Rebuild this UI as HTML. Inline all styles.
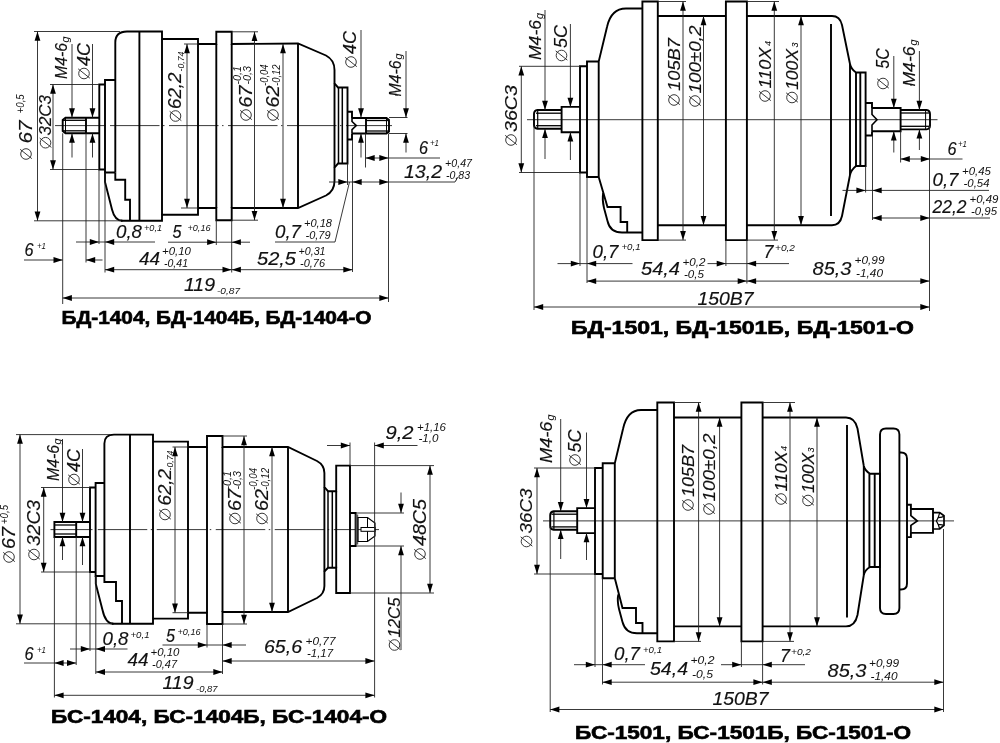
<!DOCTYPE html>
<html><head><meta charset="utf-8"><title>Drawing</title>
<style>
html,body{margin:0;padding:0;background:#fff;}
body{width:1000px;height:743px;overflow:hidden;}
svg{display:block;font-family:"Liberation Sans",sans-serif;filter:grayscale(1);}
</style></head><body>
<svg width="1000" height="743" viewBox="0 0 1000 743">
<rect x="0" y="0" width="1000" height="743" fill="#fff"/>
<g id="d1">
<line x1="55" y1="125.6" x2="106" y2="125.6" stroke="#222" stroke-width="0.9"/>
<line x1="110" y1="125.6" x2="392" y2="125.6" stroke="#222" stroke-width="0.9" stroke-dasharray="49.5 3.5 1.5 4.5"/>
<path d="M99 117.7 L65.5 117.7 L62.7 120 L62.7 131 L65.5 133.3 L99 133.3" fill="none" stroke="#000" stroke-width="1.9" stroke-linejoin="miter" stroke-linecap="butt"/>
<path d="M65.5 117.7 L65.5 133.3" fill="none" stroke="#000" stroke-width="1" stroke-linejoin="miter" stroke-linecap="butt"/>
<path d="M86 117.7 L86 133.3" fill="none" stroke="#000" stroke-width="1.9" stroke-linejoin="miter" stroke-linecap="butt"/>
<line x1="63" y1="120.3" x2="86" y2="120.3" stroke="#000" stroke-width="1.3"/>
<line x1="63" y1="130.8" x2="86" y2="130.8" stroke="#000" stroke-width="1.3"/>
<path d="M105 84.5 L99.3 84.5 L99.3 169.5 L105 169.5" fill="none" stroke="#000" stroke-width="1.9" stroke-linejoin="miter" stroke-linecap="butt"/>
<path d="M115.3 80 L105 80 L105 172.5 L115.3 172.5" fill="none" stroke="#000" stroke-width="1.9" stroke-linejoin="miter" stroke-linecap="butt"/>
<path d="M115.3 172.5 L115.3 42.5 Q115.3 31.5 127 31.5 L162 31.5 L162 39 L198 39 L198 44 L216.3 44 L216.3 31.8 L231.7 31.8 L231.7 44 L298 43.5 L326 55.5 Q334.5 60 334.5 70 L334.5 83.5 L338 87.5 L347.5 87.5 L347.5 163.5 L338 163.5 L334.5 167.5 L334.5 181 Q334.5 191 326 195.5 L298 208 L231.7 208 L231.7 220.2 L216.3 220.2 L216.3 208 L198 208 L198 214.7 L162 214.7 L162 220.8 L121 220.8" fill="none" stroke="#000" stroke-width="1.9" stroke-linejoin="miter" stroke-linecap="butt"/>
<path d="M105 172.5 L105 182 L112 209.5 Q114.8 220.8 122.5 220.8" fill="none" stroke="#000" stroke-width="1.9" stroke-linejoin="miter" stroke-linecap="butt"/>
<path d="M115.3 172.5 L115.3 179.8 L125.2 179.8 L125.2 199.8 L130 199.8 L130 220.8" fill="none" stroke="#000" stroke-width="1.9" stroke-linejoin="miter" stroke-linecap="butt"/>
<path d="M139.4 31.5 L139.4 220.8" fill="none" stroke="#000" stroke-width="1.9" stroke-linejoin="miter" stroke-linecap="butt"/>
<path d="M162 39 L162 214.7" fill="none" stroke="#000" stroke-width="1.9" stroke-linejoin="miter" stroke-linecap="butt"/>
<path d="M198 44 L198 208" fill="none" stroke="#000" stroke-width="1.9" stroke-linejoin="miter" stroke-linecap="butt"/>
<path d="M216.3 44 L216.3 208" fill="none" stroke="#000" stroke-width="1.9" stroke-linejoin="miter" stroke-linecap="butt"/>
<path d="M231.7 44 L231.7 208" fill="none" stroke="#000" stroke-width="1.9" stroke-linejoin="miter" stroke-linecap="butt"/>
<path d="M298 43.5 L298 208" fill="none" stroke="#000" stroke-width="1.9" stroke-linejoin="miter" stroke-linecap="butt"/>
<path d="M334.5 83.5 L334.5 167.5" fill="none" stroke="#000" stroke-width="1.9" stroke-linejoin="miter" stroke-linecap="butt"/>
<path d="M338.5 87.5 L338.5 163.5" fill="none" stroke="#000" stroke-width="1.5" stroke-linejoin="miter" stroke-linecap="butt"/>
<path d="M342.3 87.5 L342.3 163.5" fill="none" stroke="#000" stroke-width="1.5" stroke-linejoin="miter" stroke-linecap="butt"/>
<path d="M347.5 111.7 L352 111.7 L352 118" fill="none" stroke="#000" stroke-width="1.9" stroke-linejoin="miter" stroke-linecap="butt"/>
<path d="M347.5 139.5 L352 139.5 L352 133.5" fill="none" stroke="#000" stroke-width="1.9" stroke-linejoin="miter" stroke-linecap="butt"/>
<path d="M352 118 L386.5 118 L389 120 L389 131.5 L386.5 133.5 L352 133.5" fill="none" stroke="#000" stroke-width="1.9" stroke-linejoin="miter" stroke-linecap="butt"/>
<path d="M366 118 L366 133.5" fill="none" stroke="#000" stroke-width="1.9" stroke-linejoin="miter" stroke-linecap="butt"/>
<path d="M386.5 118 L386.5 133.5" fill="none" stroke="#000" stroke-width="1" stroke-linejoin="miter" stroke-linecap="butt"/>
<line x1="366" y1="120.5" x2="389" y2="120.5" stroke="#000" stroke-width="1.3"/>
<line x1="366" y1="131" x2="389" y2="131" stroke="#000" stroke-width="1.3"/>
<path d="M352 118 L352 121.5 L356.3 125.6 L352 129.7 L352 133.5" fill="none" stroke="#000" stroke-width="1.6" stroke-linejoin="miter" stroke-linecap="butt"/>
<line x1="34" y1="31.5" x2="120" y2="31.5" stroke="#222" stroke-width="0.9"/>
<line x1="34" y1="220.8" x2="121" y2="220.8" stroke="#222" stroke-width="0.9"/>
<line x1="37.5" y1="31.5" x2="37.5" y2="220.8" stroke="#222" stroke-width="0.9"/>
<polygon points="37.5,31.5 34.6,40.7 40.4,40.7" fill="#000"/>
<polygon points="37.5,220.8 34.6,211.6 40.4,211.6" fill="#000"/>
<circle cx="26" cy="154" r="5.3" fill="none" stroke="#222" stroke-width="0.9"/>
<line x1="20.17" y1="149.34" x2="31.83" y2="158.66" stroke="#222" stroke-width="0.9"/>
<text font-size="17.5" textLength="23" lengthAdjust="spacingAndGlyphs" font-style="italic" transform="translate(32 143.5) rotate(-90)" fill="#111" stroke="#111" stroke-width="0.15">67</text>
<text font-size="10" textLength="19" lengthAdjust="spacingAndGlyphs" font-style="italic" transform="translate(23.5 113.3) rotate(-90)" fill="#111" stroke="#111" stroke-width="0">+0,5</text>
<line x1="50" y1="84.5" x2="99" y2="84.5" stroke="#222" stroke-width="0.9"/>
<line x1="50" y1="169.5" x2="99" y2="169.5" stroke="#222" stroke-width="0.9"/>
<line x1="53" y1="84.5" x2="53" y2="169.5" stroke="#222" stroke-width="0.9"/>
<polygon points="53,84.5 50.1,93.7 55.9,93.7" fill="#000"/>
<polygon points="53,169.5 50.1,160.3 55.9,160.3" fill="#000"/>
<circle cx="45.5" cy="142.7" r="5.3" fill="none" stroke="#222" stroke-width="0.9"/>
<line x1="39.67" y1="138.04" x2="51.33" y2="147.36" stroke="#222" stroke-width="0.9"/>
<text font-size="17" textLength="40.5" lengthAdjust="spacingAndGlyphs" font-style="italic" transform="translate(50.8 135.5) rotate(-90)" fill="#111" stroke="#111" stroke-width="0.15">32C3</text>
<line x1="72" y1="44" x2="72" y2="117.5" stroke="#222" stroke-width="0.9"/>
<polygon points="72,117.5 69.1,108.3 74.9,108.3" fill="#000"/>
<line x1="72" y1="133.5" x2="72" y2="157.5" stroke="#222" stroke-width="0.9"/>
<polygon points="72,133.5 69.1,142.7 74.9,142.7" fill="#000"/>
<text font-size="16.5" textLength="36" lengthAdjust="spacingAndGlyphs" font-style="italic" transform="translate(67 79) rotate(-90)" fill="#111" stroke="#111" stroke-width="0.15">M4-6</text>
<text font-size="11" textLength="6" lengthAdjust="spacingAndGlyphs" font-style="italic" transform="translate(69 42.5) rotate(-90)" fill="#111" stroke="#111" stroke-width="0">g</text>
<line x1="92.5" y1="44" x2="92.5" y2="117.5" stroke="#222" stroke-width="0.9"/>
<polygon points="92.5,117.5 89.6,108.3 95.4,108.3" fill="#000"/>
<line x1="92.5" y1="133.5" x2="92.5" y2="157.5" stroke="#222" stroke-width="0.9"/>
<polygon points="92.5,133.5 89.6,142.7 95.4,142.7" fill="#000"/>
<circle cx="84" cy="73.5" r="5.3" fill="none" stroke="#222" stroke-width="0.9"/>
<line x1="78.17" y1="68.84" x2="89.83" y2="78.16" stroke="#222" stroke-width="0.9"/>
<text font-size="17.5" textLength="23" lengthAdjust="spacingAndGlyphs" font-style="italic" transform="translate(89.5 66) rotate(-90)" fill="#111" stroke="#111" stroke-width="0.15">4C</text>
<line x1="184" y1="44" x2="198" y2="44" stroke="#222" stroke-width="0.9"/>
<line x1="181" y1="208" x2="198" y2="208" stroke="#222" stroke-width="0.9"/>
<line x1="187" y1="44" x2="187" y2="208" stroke="#222" stroke-width="0.9"/>
<polygon points="187,44 184.1,53.2 189.9,53.2" fill="#000"/>
<polygon points="187,208 184.1,198.8 189.9,198.8" fill="#000"/>
<circle cx="175.5" cy="116" r="5.3" fill="none" stroke="#222" stroke-width="0.9"/>
<line x1="169.67" y1="111.34" x2="181.33" y2="120.66" stroke="#222" stroke-width="0.9"/>
<text font-size="17.5" textLength="36.5" lengthAdjust="spacingAndGlyphs" font-style="italic" transform="translate(181 109) rotate(-90)" fill="#111" stroke="#111" stroke-width="0.15">62,2</text>
<text font-size="9.5" textLength="20" lengthAdjust="spacingAndGlyphs" font-style="italic" transform="translate(183.5 71.5) rotate(-90)" fill="#111" stroke="#111" stroke-width="0">-0,74</text>
<line x1="231.7" y1="31.8" x2="258" y2="31.8" stroke="#222" stroke-width="0.9"/>
<line x1="231.7" y1="220.2" x2="258" y2="220.2" stroke="#222" stroke-width="0.9"/>
<line x1="254.5" y1="31.8" x2="254.5" y2="220.2" stroke="#222" stroke-width="0.9"/>
<polygon points="254.5,31.8 251.6,41 257.4,41" fill="#000"/>
<polygon points="254.5,220.2 251.6,211 257.4,211" fill="#000"/>
<circle cx="246" cy="115" r="5.3" fill="none" stroke="#222" stroke-width="0.9"/>
<line x1="240.17" y1="110.34" x2="251.83" y2="119.66" stroke="#222" stroke-width="0.9"/>
<text font-size="17.5" textLength="22" lengthAdjust="spacingAndGlyphs" font-style="italic" transform="translate(251.5 107.5) rotate(-90)" fill="#111" stroke="#111" stroke-width="0.15">67</text>
<text font-size="10" textLength="18.5" lengthAdjust="spacingAndGlyphs" font-style="italic" transform="translate(240.5 84.5) rotate(-90)" fill="#111" stroke="#111" stroke-width="0">-0,1</text>
<text font-size="10" textLength="18.5" lengthAdjust="spacingAndGlyphs" font-style="italic" transform="translate(251 84.5) rotate(-90)" fill="#111" stroke="#111" stroke-width="0">-0,3</text>
<line x1="283" y1="44" x2="283" y2="208" stroke="#222" stroke-width="0.9"/>
<polygon points="283,44 280.1,53.2 285.9,53.2" fill="#000"/>
<polygon points="283,208 280.1,198.8 285.9,198.8" fill="#000"/>
<circle cx="273" cy="115" r="5.3" fill="none" stroke="#222" stroke-width="0.9"/>
<line x1="267.17" y1="110.34" x2="278.83" y2="119.66" stroke="#222" stroke-width="0.9"/>
<text font-size="17.5" textLength="22" lengthAdjust="spacingAndGlyphs" font-style="italic" transform="translate(278.5 107.5) rotate(-90)" fill="#111" stroke="#111" stroke-width="0.15">62</text>
<text font-size="10" textLength="21.5" lengthAdjust="spacingAndGlyphs" font-style="italic" transform="translate(267.5 86) rotate(-90)" fill="#111" stroke="#111" stroke-width="0">-0,04</text>
<text font-size="10" textLength="21.5" lengthAdjust="spacingAndGlyphs" font-style="italic" transform="translate(279.5 86) rotate(-90)" fill="#111" stroke="#111" stroke-width="0">-0,12</text>
<line x1="361" y1="30" x2="361" y2="117.5" stroke="#222" stroke-width="0.9"/>
<polygon points="361,117.5 358.1,108.3 363.9,108.3" fill="#000"/>
<line x1="361" y1="133.5" x2="361" y2="157.5" stroke="#222" stroke-width="0.9"/>
<polygon points="361,133.5 358.1,142.7 363.9,142.7" fill="#000"/>
<line x1="365.5" y1="133.5" x2="365.5" y2="167.5" stroke="#222" stroke-width="0.9"/>
<circle cx="351" cy="62" r="5.3" fill="none" stroke="#222" stroke-width="0.9"/>
<line x1="345.17" y1="57.34" x2="356.83" y2="66.66" stroke="#222" stroke-width="0.9"/>
<text font-size="17.5" textLength="23" lengthAdjust="spacingAndGlyphs" font-style="italic" transform="translate(356 54) rotate(-90)" fill="#111" stroke="#111" stroke-width="0.15">4C</text>
<line x1="389" y1="117.5" x2="407.5" y2="117.5" stroke="#222" stroke-width="0.9"/>
<line x1="389" y1="133.5" x2="407.5" y2="133.5" stroke="#222" stroke-width="0.9"/>
<line x1="406" y1="51" x2="406" y2="117.5" stroke="#222" stroke-width="0.9"/>
<polygon points="406,117.5 403.1,108.3 408.9,108.3" fill="#000"/>
<line x1="406" y1="133.5" x2="406" y2="152.5" stroke="#222" stroke-width="0.9"/>
<polygon points="406,133.5 403.1,142.7 408.9,142.7" fill="#000"/>
<text font-size="16.5" textLength="36" lengthAdjust="spacingAndGlyphs" font-style="italic" transform="translate(401 96.5) rotate(-90)" fill="#111" stroke="#111" stroke-width="0.15">M4-6</text>
<text font-size="11" textLength="6" lengthAdjust="spacingAndGlyphs" font-style="italic" transform="translate(402 59.5) rotate(-90)" fill="#111" stroke="#111" stroke-width="0">g</text>
<line x1="365.5" y1="158" x2="440" y2="158" stroke="#222" stroke-width="0.9"/>
<polygon points="365.5,158 374.7,155.1 374.7,160.9" fill="#000"/>
<polygon points="388.5,158 379.3,155.1 379.3,160.9" fill="#000"/>
<text font-size="17.5" textLength="9" lengthAdjust="spacingAndGlyphs" font-style="italic" x="419" y="154" fill="#111" stroke="#111" stroke-width="0.15">6</text>
<text font-size="9.5" textLength="9" lengthAdjust="spacingAndGlyphs" font-style="italic" x="430" y="146" fill="#111" stroke="#111" stroke-width="0">+1</text>
<line x1="329" y1="182" x2="455" y2="182" stroke="#222" stroke-width="0.9"/>
<line x1="455" y1="182" x2="458" y2="177" stroke="#222" stroke-width="0.9"/>
<polygon points="347.5,182 338.3,179.1 338.3,184.9" fill="#000"/>
<polygon points="352.5,182 361.7,179.1 361.7,184.9" fill="#000"/>
<polygon points="388.5,182 379.3,179.1 379.3,184.9" fill="#000"/>
<line x1="347.5" y1="163.5" x2="347.5" y2="185" stroke="#222" stroke-width="0.9"/>
<line x1="352.5" y1="140" x2="352.5" y2="272" stroke="#222" stroke-width="0.9"/>
<line x1="388.5" y1="133.5" x2="388.5" y2="302" stroke="#222" stroke-width="0.9"/>
<text font-size="17.5" textLength="38" lengthAdjust="spacingAndGlyphs" font-style="italic" x="404" y="178" fill="#111" stroke="#111" stroke-width="0.15">13,2</text>
<text font-size="10.5" textLength="27" lengthAdjust="spacingAndGlyphs" font-style="italic" x="445" y="166.5" fill="#111" stroke="#111" stroke-width="0">+0,47</text>
<text font-size="10.5" textLength="24" lengthAdjust="spacingAndGlyphs" font-style="italic" x="446" y="178.5" fill="#111" stroke="#111" stroke-width="0">-0,83</text>
<line x1="349.5" y1="182" x2="335" y2="242" stroke="#222" stroke-width="0.9"/>
<line x1="275" y1="242" x2="335" y2="242" stroke="#222" stroke-width="0.9"/>
<text font-size="17.5" textLength="26" lengthAdjust="spacingAndGlyphs" font-style="italic" x="275" y="237.5" fill="#111" stroke="#111" stroke-width="0.15">0,7</text>
<text font-size="10.5" textLength="28" lengthAdjust="spacingAndGlyphs" font-style="italic" x="304" y="227" fill="#111" stroke="#111" stroke-width="0">+0,18</text>
<text font-size="10.5" textLength="25" lengthAdjust="spacingAndGlyphs" font-style="italic" x="305.5" y="239" fill="#111" stroke="#111" stroke-width="0">-0,79</text>
<line x1="231.7" y1="269.7" x2="352.5" y2="269.7" stroke="#222" stroke-width="0.9"/>
<polygon points="231.7,269.7 240.9,266.8 240.9,272.6" fill="#000"/>
<polygon points="352.5,269.7 343.3,266.8 343.3,272.6" fill="#000"/>
<text font-size="17.5" textLength="39" lengthAdjust="spacingAndGlyphs" font-style="italic" x="257" y="264.5" fill="#111" stroke="#111" stroke-width="0.15">52,5</text>
<text font-size="10.5" textLength="27" lengthAdjust="spacingAndGlyphs" font-style="italic" x="298.5" y="254.5" fill="#111" stroke="#111" stroke-width="0">+0,31</text>
<text font-size="10.5" textLength="25" lengthAdjust="spacingAndGlyphs" font-style="italic" x="300" y="266.5" fill="#111" stroke="#111" stroke-width="0">-0,76</text>
<line x1="99" y1="169.5" x2="99" y2="244" stroke="#222" stroke-width="0.9"/>
<line x1="105" y1="172.5" x2="105" y2="272.5" stroke="#222" stroke-width="0.9"/>
<line x1="76" y1="242" x2="105" y2="242" stroke="#222" stroke-width="0.9"/>
<polygon points="99,242 89.8,239.1 89.8,244.9" fill="#000"/>
<line x1="105" y1="242" x2="155" y2="242" stroke="#222" stroke-width="0.9"/>
<polygon points="105,242 114.2,239.1 114.2,244.9" fill="#000"/>
<text font-size="17.5" textLength="26" lengthAdjust="spacingAndGlyphs" font-style="italic" x="116" y="238" fill="#111" stroke="#111" stroke-width="0.15">0,8</text>
<text font-size="9.5" textLength="18" lengthAdjust="spacingAndGlyphs" font-style="italic" x="144" y="231" fill="#111" stroke="#111" stroke-width="0">+0,1</text>
<line x1="216.3" y1="220.2" x2="216.3" y2="245" stroke="#222" stroke-width="0.9"/>
<line x1="231.7" y1="220.2" x2="231.7" y2="272.5" stroke="#222" stroke-width="0.9"/>
<line x1="168" y1="242.2" x2="250" y2="242.2" stroke="#222" stroke-width="0.9"/>
<polygon points="216.3,242.2 207.1,239.3 207.1,245.1" fill="#000"/>
<polygon points="231.7,242.2 240.9,239.3 240.9,245.1" fill="#000"/>
<text font-size="17.5" textLength="9" lengthAdjust="spacingAndGlyphs" font-style="italic" x="172.5" y="238" fill="#111" stroke="#111" stroke-width="0.15">5</text>
<text font-size="9.5" textLength="23" lengthAdjust="spacingAndGlyphs" font-style="italic" x="187.5" y="231" fill="#111" stroke="#111" stroke-width="0">+0,16</text>
<line x1="62.7" y1="133.3" x2="62.7" y2="304" stroke="#222" stroke-width="0.9"/>
<line x1="86" y1="133.3" x2="86" y2="262.5" stroke="#222" stroke-width="0.9"/>
<line x1="24" y1="260" x2="62.7" y2="260" stroke="#222" stroke-width="0.9"/>
<polygon points="62.7,260 53.5,257.1 53.5,262.9" fill="#000"/>
<line x1="86" y1="260" x2="102.5" y2="260" stroke="#222" stroke-width="0.9"/>
<polygon points="86,260 95.2,257.1 95.2,262.9" fill="#000"/>
<text font-size="17.5" textLength="9" lengthAdjust="spacingAndGlyphs" font-style="italic" x="24.5" y="256" fill="#111" stroke="#111" stroke-width="0.15">6</text>
<text font-size="9.5" textLength="9" lengthAdjust="spacingAndGlyphs" font-style="italic" x="37" y="249" fill="#111" stroke="#111" stroke-width="0">+1</text>
<line x1="105" y1="269.7" x2="231.7" y2="269.7" stroke="#222" stroke-width="0.9"/>
<polygon points="105,269.7 114.2,266.8 114.2,272.6" fill="#000"/>
<polygon points="231.7,269.7 222.5,266.8 222.5,272.6" fill="#000"/>
<text font-size="17.5" textLength="21" lengthAdjust="spacingAndGlyphs" font-style="italic" x="139" y="264.5" fill="#111" stroke="#111" stroke-width="0.15">44</text>
<text font-size="10.5" textLength="29" lengthAdjust="spacingAndGlyphs" font-style="italic" x="162" y="254.5" fill="#111" stroke="#111" stroke-width="0">+0,10</text>
<text font-size="10.5" textLength="24" lengthAdjust="spacingAndGlyphs" font-style="italic" x="164" y="266.5" fill="#111" stroke="#111" stroke-width="0">-0,41</text>
<line x1="62.7" y1="298" x2="388.5" y2="298" stroke="#222" stroke-width="0.9"/>
<polygon points="62.7,298 71.9,295.1 71.9,300.9" fill="#000"/>
<polygon points="388.5,298 379.3,295.1 379.3,300.9" fill="#000"/>
<text font-size="17.5" textLength="31" lengthAdjust="spacingAndGlyphs" font-style="italic" x="184" y="291" fill="#111" stroke="#111" stroke-width="0.15">119</text>
<text font-size="9.5" textLength="23" lengthAdjust="spacingAndGlyphs" font-style="italic" x="217" y="294" fill="#111" stroke="#111" stroke-width="0">-0,87</text>
<text font-size="17.5" textLength="310" lengthAdjust="spacingAndGlyphs" font-weight="bold" x="61.5" y="323.5" fill="#000" stroke="#000" stroke-width="0.6">БД-1404, БД-1404Б, БД-1404-О</text>
</g>
<g id="d2">
<line x1="527" y1="119.7" x2="937.5" y2="119.7" stroke="#222" stroke-width="0.9"/>
<path d="M561.6 110 L537.5 110 Q534 110.5 534 114 L534 125 Q534 128.3 537.5 128.8 L561.6 128.8" fill="none" stroke="#000" stroke-width="1.9" stroke-linejoin="miter" stroke-linecap="butt"/>
<path d="M537.7 110 L537.7 128.8" fill="none" stroke="#000" stroke-width="1.2" stroke-linejoin="miter" stroke-linecap="butt"/>
<line x1="536" y1="113.2" x2="561" y2="113.2" stroke="#000" stroke-width="1.3"/>
<line x1="536" y1="125.7" x2="561" y2="125.7" stroke="#000" stroke-width="1.3"/>
<path d="M580 106.9 L561.6 106.9 L561.6 132.2 L580 132.2" fill="none" stroke="#000" stroke-width="1.9" stroke-linejoin="miter" stroke-linecap="butt"/>
<path d="M587 66.3 L580 66.3 L580 172.5 L587 172.5" fill="none" stroke="#000" stroke-width="1.9" stroke-linejoin="miter" stroke-linecap="butt"/>
<path d="M598.7 61.5 L587 61.5 L587 177 L598.7 177" fill="none" stroke="#000" stroke-width="1.9" stroke-linejoin="miter" stroke-linecap="butt"/>
<path d="M598.7 177 L598.7 61.5 L607 27 Q611 8.5 626 8.5 L642.4 8.5" fill="none" stroke="#000" stroke-width="1.9" stroke-linejoin="miter" stroke-linecap="butt"/>
<path d="M598.7 177 L607.5 207 L620.6 207 L620.6 222 L627.2 222 L627.2 232.5" fill="none" stroke="#000" stroke-width="1.9" stroke-linejoin="miter" stroke-linecap="butt"/>
<path d="M603.2 193 Q602 200 604 208 L607.5 221 Q610 232.5 622 232.5 L642.4 232.5" fill="none" stroke="#000" stroke-width="1.9" stroke-linejoin="miter" stroke-linecap="butt"/>
<path d="M642.4 1.5 L657.8 1.5 L657.8 240.1 L642.4 240.1 Z" fill="none" stroke="#000" stroke-width="1.9" stroke-linejoin="miter" stroke-linecap="butt"/>
<path d="M657.8 16 L725.9 16" fill="none" stroke="#000" stroke-width="1.9" stroke-linejoin="miter" stroke-linecap="butt"/>
<path d="M657.8 225.2 L725.9 225.2" fill="none" stroke="#000" stroke-width="1.9" stroke-linejoin="miter" stroke-linecap="butt"/>
<path d="M725.9 1.5 L746.9 1.5 L746.9 240.1 L725.9 240.1 Z" fill="none" stroke="#000" stroke-width="1.9" stroke-linejoin="miter" stroke-linecap="butt"/>
<path d="M746.9 16 L832 16 Q840 16 842 25 L850 64 Q851 69 856 72.5 L865.6 72.5 L865.6 166 L856 166 Q851 170 850 175 L842 216 Q840 225.2 832 225.2 L746.9 225.2" fill="none" stroke="#000" stroke-width="1.9" stroke-linejoin="miter" stroke-linecap="butt"/>
<path d="M831 24 L831 216" fill="none" stroke="#000" stroke-width="1.9" stroke-linejoin="miter" stroke-linecap="butt"/>
<path d="M850 64 L850 175" fill="none" stroke="#000" stroke-width="1.9" stroke-linejoin="miter" stroke-linecap="butt"/>
<path d="M856 72.5 L856 166" fill="none" stroke="#000" stroke-width="1.9" stroke-linejoin="miter" stroke-linecap="butt"/>
<path d="M860.3 72.5 L860.3 166" fill="none" stroke="#000" stroke-width="1.9" stroke-linejoin="miter" stroke-linecap="butt"/>
<path d="M865.6 103 L872 103 L872 108" fill="none" stroke="#000" stroke-width="1.9" stroke-linejoin="miter" stroke-linecap="butt"/>
<path d="M865.6 135.5 L872 135.5 L872 131.3" fill="none" stroke="#000" stroke-width="1.9" stroke-linejoin="miter" stroke-linecap="butt"/>
<path d="M872 108 L900.6 108 L900.6 131.3 L872 131.3" fill="none" stroke="#000" stroke-width="1.9" stroke-linejoin="miter" stroke-linecap="butt"/>
<path d="M872 108 L872 114.5 L877 119.7 L872 125 L872 131.3" fill="none" stroke="#000" stroke-width="1.6" stroke-linejoin="miter" stroke-linecap="butt"/>
<path d="M900.6 110 L926.5 110 Q930 110.5 930 114 L930 125.5 Q930 129 926.5 129.4 L900.6 129.4" fill="none" stroke="#000" stroke-width="1.9" stroke-linejoin="miter" stroke-linecap="butt"/>
<path d="M925.6 110 L925.6 129.4" fill="none" stroke="#000" stroke-width="1" stroke-linejoin="miter" stroke-linecap="butt"/>
<line x1="900.6" y1="113" x2="929" y2="113" stroke="#000" stroke-width="1.3"/>
<line x1="900.6" y1="126.3" x2="929" y2="126.3" stroke="#000" stroke-width="1.3"/>
<line x1="519" y1="66.3" x2="580" y2="66.3" stroke="#222" stroke-width="0.9"/>
<line x1="519" y1="172.5" x2="580" y2="172.5" stroke="#222" stroke-width="0.9"/>
<line x1="521.3" y1="66.3" x2="521.3" y2="172.5" stroke="#222" stroke-width="0.9"/>
<polygon points="521.3,66.3 518.4,75.5 524.2,75.5" fill="#000"/>
<polygon points="521.3,172.5 518.4,163.3 524.2,163.3" fill="#000"/>
<circle cx="511" cy="140" r="5.3" fill="none" stroke="#222" stroke-width="0.9"/>
<line x1="505.17" y1="135.34" x2="516.83" y2="144.66" stroke="#222" stroke-width="0.9"/>
<text font-size="17" textLength="47" lengthAdjust="spacingAndGlyphs" font-style="italic" transform="translate(516.5 132) rotate(-90)" fill="#111" stroke="#111" stroke-width="0.15">36C3</text>
<line x1="545" y1="10" x2="545" y2="110" stroke="#222" stroke-width="0.9"/>
<polygon points="545,110 542.1,100.8 547.9,100.8" fill="#000"/>
<line x1="545" y1="128.8" x2="545" y2="159" stroke="#222" stroke-width="0.9"/>
<polygon points="545,128.8 542.1,138 547.9,138" fill="#000"/>
<text font-size="16.5" textLength="40" lengthAdjust="spacingAndGlyphs" font-style="italic" transform="translate(540.5 60) rotate(-90)" fill="#111" stroke="#111" stroke-width="0.15">M4-6</text>
<text font-size="11" textLength="6" lengthAdjust="spacingAndGlyphs" font-style="italic" transform="translate(542.5 19) rotate(-90)" fill="#111" stroke="#111" stroke-width="0">g</text>
<line x1="570.4" y1="24" x2="570.4" y2="106.9" stroke="#222" stroke-width="0.9"/>
<polygon points="570.4,106.9 567.5,97.7 573.3,97.7" fill="#000"/>
<line x1="570.4" y1="132.2" x2="570.4" y2="160" stroke="#222" stroke-width="0.9"/>
<polygon points="570.4,132.2 567.5,141.4 573.3,141.4" fill="#000"/>
<circle cx="561.5" cy="55.5" r="5.3" fill="none" stroke="#222" stroke-width="0.9"/>
<line x1="555.67" y1="50.84" x2="567.33" y2="60.16" stroke="#222" stroke-width="0.9"/>
<text font-size="17.5" textLength="23" lengthAdjust="spacingAndGlyphs" font-style="italic" transform="translate(567 48) rotate(-90)" fill="#111" stroke="#111" stroke-width="0.15">5C</text>
<line x1="657.8" y1="1.5" x2="686" y2="1.5" stroke="#222" stroke-width="0.9"/>
<line x1="657.8" y1="240.1" x2="686" y2="240.1" stroke="#222" stroke-width="0.9"/>
<line x1="683" y1="1.5" x2="683" y2="240.1" stroke="#222" stroke-width="0.9"/>
<polygon points="683,1.5 680.1,10.7 685.9,10.7" fill="#000"/>
<polygon points="683,240.1 680.1,230.9 685.9,230.9" fill="#000"/>
<circle cx="674" cy="100" r="5.3" fill="none" stroke="#222" stroke-width="0.9"/>
<line x1="668.17" y1="95.34" x2="679.83" y2="104.66" stroke="#222" stroke-width="0.9"/>
<text font-size="17" textLength="53" lengthAdjust="spacingAndGlyphs" font-style="italic" transform="translate(679.5 91) rotate(-90)" fill="#111" stroke="#111" stroke-width="0.15">105B7</text>
<line x1="703.5" y1="16" x2="703.5" y2="225.2" stroke="#222" stroke-width="0.9"/>
<polygon points="703.5,16 700.6,25.2 706.4,25.2" fill="#000"/>
<polygon points="703.5,225.2 700.6,216 706.4,216" fill="#000"/>
<circle cx="695" cy="101" r="5.3" fill="none" stroke="#222" stroke-width="0.9"/>
<line x1="689.17" y1="96.34" x2="700.83" y2="105.66" stroke="#222" stroke-width="0.9"/>
<text font-size="17" textLength="68" lengthAdjust="spacingAndGlyphs" font-style="italic" transform="translate(700.5 93.5) rotate(-90)" fill="#111" stroke="#111" stroke-width="0.15">100±0,2</text>
<line x1="746.9" y1="1.5" x2="779" y2="1.5" stroke="#222" stroke-width="0.9"/>
<line x1="746.9" y1="240.1" x2="778" y2="240.1" stroke="#222" stroke-width="0.9"/>
<line x1="774.3" y1="1.5" x2="774.3" y2="240.1" stroke="#222" stroke-width="0.9"/>
<polygon points="774.3,1.5 771.4,10.7 777.2,10.7" fill="#000"/>
<polygon points="774.3,240.1 771.4,230.9 777.2,230.9" fill="#000"/>
<circle cx="765" cy="96" r="5.3" fill="none" stroke="#222" stroke-width="0.9"/>
<line x1="759.17" y1="91.34" x2="770.83" y2="100.66" stroke="#222" stroke-width="0.9"/>
<text font-size="17" textLength="41" lengthAdjust="spacingAndGlyphs" font-style="italic" transform="translate(770.5 88.5) rotate(-90)" fill="#111" stroke="#111" stroke-width="0.15">110X</text>
<text font-size="8.5" textLength="5" lengthAdjust="spacingAndGlyphs" font-style="italic" transform="translate(770.5 46) rotate(-90)" fill="#000" stroke="#000" stroke-width="0">4</text>
<line x1="801" y1="16" x2="801" y2="225.2" stroke="#222" stroke-width="0.9"/>
<polygon points="801,16 798.1,25.2 803.9,25.2" fill="#000"/>
<polygon points="801,225.2 798.1,216 803.9,216" fill="#000"/>
<circle cx="792" cy="97.5" r="5.3" fill="none" stroke="#222" stroke-width="0.9"/>
<line x1="786.17" y1="92.84" x2="797.83" y2="102.16" stroke="#222" stroke-width="0.9"/>
<text font-size="17" textLength="41" lengthAdjust="spacingAndGlyphs" font-style="italic" transform="translate(797.5 90) rotate(-90)" fill="#111" stroke="#111" stroke-width="0.15">100X</text>
<text font-size="8.5" textLength="5" lengthAdjust="spacingAndGlyphs" font-style="italic" transform="translate(797.5 47.5) rotate(-90)" fill="#000" stroke="#000" stroke-width="0">3</text>
<line x1="893.8" y1="56" x2="893.8" y2="108" stroke="#222" stroke-width="0.9"/>
<polygon points="893.8,108 890.9,98.8 896.7,98.8" fill="#000"/>
<line x1="893.8" y1="131.3" x2="893.8" y2="152.5" stroke="#222" stroke-width="0.9"/>
<polygon points="893.8,131.3 890.9,140.5 896.7,140.5" fill="#000"/>
<circle cx="883" cy="83.5" r="5.3" fill="none" stroke="#222" stroke-width="0.9"/>
<line x1="877.17" y1="78.84" x2="888.83" y2="88.16" stroke="#222" stroke-width="0.9"/>
<text font-size="17.5" textLength="20" lengthAdjust="spacingAndGlyphs" font-style="italic" transform="translate(889 68.5) rotate(-90)" fill="#111" stroke="#111" stroke-width="0.15">5C</text>
<line x1="919.4" y1="51" x2="919.4" y2="110" stroke="#222" stroke-width="0.9"/>
<polygon points="919.4,110 916.5,100.8 922.3,100.8" fill="#000"/>
<line x1="919.4" y1="129.4" x2="919.4" y2="150" stroke="#222" stroke-width="0.9"/>
<polygon points="919.4,129.4 916.5,138.6 922.3,138.6" fill="#000"/>
<text font-size="16.5" textLength="40" lengthAdjust="spacingAndGlyphs" font-style="italic" transform="translate(915 86.5) rotate(-90)" fill="#111" stroke="#111" stroke-width="0.15">M4-6</text>
<text font-size="11" textLength="6" lengthAdjust="spacingAndGlyphs" font-style="italic" transform="translate(917 45.5) rotate(-90)" fill="#111" stroke="#111" stroke-width="0">g</text>
<line x1="900.6" y1="131.3" x2="900.6" y2="162.5" stroke="#222" stroke-width="0.9"/>
<line x1="929.5" y1="126" x2="929.5" y2="311" stroke="#222" stroke-width="0.9"/>
<line x1="900.6" y1="159" x2="962.5" y2="159" stroke="#222" stroke-width="0.9"/>
<polygon points="900.6,159 909.8,156.1 909.8,161.9" fill="#000"/>
<polygon points="930,159 920.8,156.1 920.8,161.9" fill="#000"/>
<text font-size="17.5" textLength="9" lengthAdjust="spacingAndGlyphs" font-style="italic" x="947.5" y="155" fill="#111" stroke="#111" stroke-width="0.15">6</text>
<text font-size="9.5" textLength="9" lengthAdjust="spacingAndGlyphs" font-style="italic" x="958" y="147" fill="#111" stroke="#111" stroke-width="0">+1</text>
<line x1="865.6" y1="166" x2="865.6" y2="192.5" stroke="#222" stroke-width="0.9"/>
<line x1="872.5" y1="135.5" x2="872.5" y2="220" stroke="#222" stroke-width="0.9"/>
<line x1="842.5" y1="190.4" x2="872.5" y2="190.4" stroke="#222" stroke-width="0.9"/>
<polygon points="865.6,190.4 856.4,187.5 856.4,193.3" fill="#000"/>
<line x1="872.5" y1="190.4" x2="989" y2="190.4" stroke="#222" stroke-width="0.9"/>
<polygon points="872.5,190.4 881.7,187.5 881.7,193.3" fill="#000"/>
<text font-size="17.5" textLength="26" lengthAdjust="spacingAndGlyphs" font-style="italic" x="932.5" y="186" fill="#111" stroke="#111" stroke-width="0.15">0,7</text>
<text font-size="10.5" textLength="29" lengthAdjust="spacingAndGlyphs" font-style="italic" x="962" y="175" fill="#111" stroke="#111" stroke-width="0">+0,45</text>
<text font-size="10.5" textLength="26" lengthAdjust="spacingAndGlyphs" font-style="italic" x="963.5" y="187" fill="#111" stroke="#111" stroke-width="0">-0,54</text>
<line x1="872.5" y1="218" x2="990" y2="218" stroke="#222" stroke-width="0.9"/>
<polygon points="872.5,218 881.7,215.1 881.7,220.9" fill="#000"/>
<polygon points="929.5,218 920.3,215.1 920.3,220.9" fill="#000"/>
<text font-size="17.5" textLength="34" lengthAdjust="spacingAndGlyphs" font-style="italic" x="932.5" y="212.5" fill="#111" stroke="#111" stroke-width="0.15">22,2</text>
<text font-size="10.5" textLength="29" lengthAdjust="spacingAndGlyphs" font-style="italic" x="969.5" y="202.5" fill="#111" stroke="#111" stroke-width="0">+0,49</text>
<text font-size="10.5" textLength="26" lengthAdjust="spacingAndGlyphs" font-style="italic" x="971" y="215" fill="#111" stroke="#111" stroke-width="0">-0,95</text>
<line x1="580" y1="172.5" x2="580" y2="266" stroke="#222" stroke-width="0.9"/>
<line x1="587" y1="177" x2="587" y2="283" stroke="#222" stroke-width="0.9"/>
<line x1="557.5" y1="263.6" x2="632.5" y2="263.6" stroke="#222" stroke-width="0.9"/>
<polygon points="580,263.6 570.8,260.7 570.8,266.5" fill="#000"/>
<polygon points="587,263.6 596.2,260.7 596.2,266.5" fill="#000"/>
<text font-size="17.5" textLength="26" lengthAdjust="spacingAndGlyphs" font-style="italic" x="592.5" y="257.5" fill="#111" stroke="#111" stroke-width="0.15">0,7</text>
<text font-size="9.5" textLength="19" lengthAdjust="spacingAndGlyphs" font-style="italic" x="621.5" y="250" fill="#111" stroke="#111" stroke-width="0">+0,1</text>
<text font-size="17.5" textLength="39" lengthAdjust="spacingAndGlyphs" font-style="italic" x="641" y="274.5" fill="#111" stroke="#111" stroke-width="0.15">54,4</text>
<text font-size="10.5" textLength="23" lengthAdjust="spacingAndGlyphs" font-style="italic" x="682.5" y="266" fill="#111" stroke="#111" stroke-width="0">+0,2</text>
<text font-size="10.5" textLength="20" lengthAdjust="spacingAndGlyphs" font-style="italic" x="684" y="277.5" fill="#111" stroke="#111" stroke-width="0">-0,5</text>
<line x1="587" y1="281.1" x2="746.9" y2="281.1" stroke="#222" stroke-width="0.9"/>
<polygon points="587,281.1 596.2,278.2 596.2,284" fill="#000"/>
<polygon points="746.9,281.1 737.7,278.2 737.7,284" fill="#000"/>
<line x1="725.9" y1="240.1" x2="725.9" y2="266" stroke="#222" stroke-width="0.9"/>
<line x1="746.9" y1="240.1" x2="746.9" y2="283.5" stroke="#222" stroke-width="0.9"/>
<line x1="707.5" y1="263.6" x2="789" y2="263.6" stroke="#222" stroke-width="0.9"/>
<polygon points="725.9,263.6 716.7,260.7 716.7,266.5" fill="#000"/>
<polygon points="746.9,263.6 756.1,260.7 756.1,266.5" fill="#000"/>
<text font-size="17.5" textLength="10" lengthAdjust="spacingAndGlyphs" font-style="italic" x="763.5" y="258" fill="#111" stroke="#111" stroke-width="0.15">7</text>
<text font-size="9.5" textLength="20" lengthAdjust="spacingAndGlyphs" font-style="italic" x="775" y="250.5" fill="#111" stroke="#111" stroke-width="0">+0,2</text>
<line x1="746.9" y1="281.1" x2="929.5" y2="281.1" stroke="#222" stroke-width="0.9"/>
<polygon points="746.9,281.1 756.1,278.2 756.1,284" fill="#000"/>
<polygon points="929.5,281.1 920.3,278.2 920.3,284" fill="#000"/>
<text font-size="17.5" textLength="39" lengthAdjust="spacingAndGlyphs" font-style="italic" x="812.5" y="274.5" fill="#111" stroke="#111" stroke-width="0.15">85,3</text>
<text font-size="10.5" textLength="30" lengthAdjust="spacingAndGlyphs" font-style="italic" x="854.5" y="264" fill="#111" stroke="#111" stroke-width="0">+0,99</text>
<text font-size="10.5" textLength="27" lengthAdjust="spacingAndGlyphs" font-style="italic" x="856" y="277" fill="#111" stroke="#111" stroke-width="0">-1,40</text>
<line x1="534" y1="126" x2="534" y2="310" stroke="#222" stroke-width="0.9"/>
<line x1="534" y1="307" x2="929.5" y2="307" stroke="#222" stroke-width="0.9"/>
<polygon points="534,307 543.2,304.1 543.2,309.9" fill="#000"/>
<polygon points="929.5,307 920.3,304.1 920.3,309.9" fill="#000"/>
<text font-size="17.5" textLength="56" lengthAdjust="spacingAndGlyphs" font-style="italic" x="697.5" y="304.5" fill="#111" stroke="#111" stroke-width="0.15">150B7</text>
<text font-size="17.5" textLength="343" lengthAdjust="spacingAndGlyphs" font-weight="bold" x="571" y="333.5" fill="#000" stroke="#000" stroke-width="0.6">БД-1501, БД-1501Б, БД-1501-О</text>
</g>
<g id="d3">
<line x1="50.5" y1="529.6" x2="92.5" y2="529.6" stroke="#222" stroke-width="0.9"/>
<line x1="97.75" y1="529.6" x2="379" y2="529.6" stroke="#222" stroke-width="0.9" stroke-dasharray="49.5 3.5 1.5 4.5"/>
<path d="M90 522 L54.4 522 L54.4 537 L90 537" fill="none" stroke="#000" stroke-width="1.9" stroke-linejoin="miter" stroke-linecap="butt"/>
<path d="M76.2 522 L76.2 537" fill="none" stroke="#000" stroke-width="1.9" stroke-linejoin="miter" stroke-linecap="butt"/>
<line x1="54.4" y1="525" x2="76.2" y2="525" stroke="#000" stroke-width="1.3"/>
<line x1="54.4" y1="534" x2="76.2" y2="534" stroke="#000" stroke-width="1.3"/>
<path d="M95.6 487.5 L90 487.5 L90 572 L95.6 572" fill="none" stroke="#000" stroke-width="1.9" stroke-linejoin="miter" stroke-linecap="butt"/>
<path d="M104.4 483 L95.6 483 L95.6 576 L104.4 576" fill="none" stroke="#000" stroke-width="1.9" stroke-linejoin="miter" stroke-linecap="butt"/>
<path d="M104.4 576 L104.4 443.6 Q104.4 434.6 114 434.6 L153 434.6 L153 441.6 L188 441.6 L188 447 L207 447 L207 436 L222.5 436 L222.5 447 L288 447 L317 461 Q324.4 465 324.4 473 L324.4 487 L328 491.2 L336.2 491.2 L336.2 465.6 L350 465.6 L350 593 L336.2 593 L336.2 567.8 L328 567.8 L324.4 571.5 L324.4 586 Q324.4 594 317 598 L288 612 L222.5 612 L222.5 624 L207 624 L207 612.7 L188 612.7 L188 618.6 L153 618.6 L153 623.8 L112 623.8" fill="none" stroke="#000" stroke-width="1.9" stroke-linejoin="miter" stroke-linecap="butt"/>
<path d="M95.8 576 L95.8 584 L102.5 610 Q105.5 623.8 113.5 623.8" fill="none" stroke="#000" stroke-width="1.9" stroke-linejoin="miter" stroke-linecap="butt"/>
<path d="M104.4 576 L104.4 582 L116 582 L116 601 L122 601 L122 623.8" fill="none" stroke="#000" stroke-width="1.9" stroke-linejoin="miter" stroke-linecap="butt"/>
<path d="M130 434.6 L130 623.8" fill="none" stroke="#000" stroke-width="1.9" stroke-linejoin="miter" stroke-linecap="butt"/>
<path d="M153 441.6 L153 618.6" fill="none" stroke="#000" stroke-width="1.9" stroke-linejoin="miter" stroke-linecap="butt"/>
<path d="M188 447 L188 612.7" fill="none" stroke="#000" stroke-width="1.9" stroke-linejoin="miter" stroke-linecap="butt"/>
<path d="M207 447 L207 612.7" fill="none" stroke="#000" stroke-width="1.9" stroke-linejoin="miter" stroke-linecap="butt"/>
<path d="M222.5 447 L222.5 612" fill="none" stroke="#000" stroke-width="1.9" stroke-linejoin="miter" stroke-linecap="butt"/>
<path d="M288 447 L288 612" fill="none" stroke="#000" stroke-width="1.9" stroke-linejoin="miter" stroke-linecap="butt"/>
<path d="M324.4 487 L324.4 571.5" fill="none" stroke="#000" stroke-width="1.9" stroke-linejoin="miter" stroke-linecap="butt"/>
<path d="M328 491.2 L328 567.8" fill="none" stroke="#000" stroke-width="1.5" stroke-linejoin="miter" stroke-linecap="butt"/>
<path d="M332.3 491.2 L332.3 567.8" fill="none" stroke="#000" stroke-width="1.5" stroke-linejoin="miter" stroke-linecap="butt"/>
<path d="M336.2 491.2 L336.2 567.8" fill="none" stroke="#000" stroke-width="1.9" stroke-linejoin="miter" stroke-linecap="butt"/>
<path d="M350 513 L355.6 513 L355.6 546 L350 546" fill="none" stroke="#000" stroke-width="1.9" stroke-linejoin="miter" stroke-linecap="butt"/>
<rect x="355.6" y="514.5" width="2.6" height="30" fill="#555"/>
<path d="M358 517.5 L367.5 517.5 L375 523 L375 536 L367.5 541.5 L358 541.5 Z" fill="none" stroke="#000" stroke-width="1.2" stroke-linejoin="miter" stroke-linecap="butt"/>
<path d="M367.5 517.5 L367.5 541.5" fill="none" stroke="#000" stroke-width="1" stroke-linejoin="miter" stroke-linecap="butt"/>
<rect x="361" y="527.5" width="14" height="3.8" fill="#fff" stroke="#000" stroke-width="1"/>
<line x1="16" y1="434.6" x2="110" y2="434.6" stroke="#222" stroke-width="0.9"/>
<line x1="16" y1="623.8" x2="112" y2="623.8" stroke="#222" stroke-width="0.9"/>
<line x1="20" y1="434.6" x2="20" y2="623.8" stroke="#222" stroke-width="0.9"/>
<polygon points="20,434.6 17.1,443.8 22.9,443.8" fill="#000"/>
<polygon points="20,623.8 17.1,614.6 22.9,614.6" fill="#000"/>
<circle cx="9" cy="557" r="5.3" fill="none" stroke="#222" stroke-width="0.9"/>
<line x1="3.17" y1="552.34" x2="14.83" y2="561.66" stroke="#222" stroke-width="0.9"/>
<text font-size="17.5" textLength="22" lengthAdjust="spacingAndGlyphs" font-style="italic" transform="translate(14.5 549) rotate(-90)" fill="#111" stroke="#111" stroke-width="0.15">67</text>
<text font-size="10.5" textLength="19" lengthAdjust="spacingAndGlyphs" font-style="italic" transform="translate(8 524) rotate(-90)" fill="#111" stroke="#111" stroke-width="0">+0,5</text>
<line x1="41" y1="487.5" x2="90" y2="487.5" stroke="#222" stroke-width="0.9"/>
<line x1="41" y1="572" x2="90" y2="572" stroke="#222" stroke-width="0.9"/>
<line x1="43.7" y1="487.5" x2="43.7" y2="572" stroke="#222" stroke-width="0.9"/>
<polygon points="43.7,487.5 40.8,496.7 46.6,496.7" fill="#000"/>
<polygon points="43.7,572 40.8,562.8 46.6,562.8" fill="#000"/>
<circle cx="34" cy="554.5" r="5.3" fill="none" stroke="#222" stroke-width="0.9"/>
<line x1="28.17" y1="549.84" x2="39.83" y2="559.16" stroke="#222" stroke-width="0.9"/>
<text font-size="17.5" textLength="46" lengthAdjust="spacingAndGlyphs" font-style="italic" transform="translate(39.5 546) rotate(-90)" fill="#111" stroke="#111" stroke-width="0.15">32C3</text>
<line x1="62.5" y1="439" x2="62.5" y2="522" stroke="#222" stroke-width="0.9"/>
<polygon points="62.5,522 59.6,512.8 65.4,512.8" fill="#000"/>
<line x1="62.5" y1="537" x2="62.5" y2="560" stroke="#222" stroke-width="0.9"/>
<polygon points="62.5,537 59.6,546.2 65.4,546.2" fill="#000"/>
<text font-size="16.5" textLength="36" lengthAdjust="spacingAndGlyphs" font-style="italic" transform="translate(58.5 481) rotate(-90)" fill="#111" stroke="#111" stroke-width="0.15">M4-6</text>
<text font-size="11" textLength="6" lengthAdjust="spacingAndGlyphs" font-style="italic" transform="translate(60.5 444.5) rotate(-90)" fill="#111" stroke="#111" stroke-width="0">g</text>
<line x1="82.5" y1="449" x2="82.5" y2="522" stroke="#222" stroke-width="0.9"/>
<polygon points="82.5,522 79.6,512.8 85.4,512.8" fill="#000"/>
<line x1="82.5" y1="537" x2="82.5" y2="565" stroke="#222" stroke-width="0.9"/>
<polygon points="82.5,537 79.6,546.2 85.4,546.2" fill="#000"/>
<circle cx="74" cy="479.5" r="5.3" fill="none" stroke="#222" stroke-width="0.9"/>
<line x1="68.17" y1="474.84" x2="79.83" y2="484.16" stroke="#222" stroke-width="0.9"/>
<text font-size="17.5" textLength="23" lengthAdjust="spacingAndGlyphs" font-style="italic" transform="translate(79.5 472) rotate(-90)" fill="#111" stroke="#111" stroke-width="0.15">4C</text>
<line x1="172.5" y1="447" x2="188" y2="447" stroke="#222" stroke-width="0.9"/>
<line x1="172.5" y1="612.7" x2="188" y2="612.7" stroke="#222" stroke-width="0.9"/>
<line x1="175" y1="447" x2="175" y2="612.7" stroke="#222" stroke-width="0.9"/>
<polygon points="175,447 172.1,456.2 177.9,456.2" fill="#000"/>
<polygon points="175,612.7 172.1,603.5 177.9,603.5" fill="#000"/>
<circle cx="165" cy="514.5" r="5.3" fill="none" stroke="#222" stroke-width="0.9"/>
<line x1="159.17" y1="509.84" x2="170.83" y2="519.16" stroke="#222" stroke-width="0.9"/>
<text font-size="17.5" textLength="36.5" lengthAdjust="spacingAndGlyphs" font-style="italic" transform="translate(170.5 505.5) rotate(-90)" fill="#111" stroke="#111" stroke-width="0.15">62,2</text>
<text font-size="9.5" textLength="20" lengthAdjust="spacingAndGlyphs" font-style="italic" transform="translate(172.5 470.5) rotate(-90)" fill="#111" stroke="#111" stroke-width="0">-0,74</text>
<line x1="222.5" y1="436" x2="247" y2="436" stroke="#222" stroke-width="0.9"/>
<line x1="222.5" y1="624" x2="247" y2="624" stroke="#222" stroke-width="0.9"/>
<line x1="244" y1="436" x2="244" y2="624" stroke="#222" stroke-width="0.9"/>
<polygon points="244,436 241.1,445.2 246.9,445.2" fill="#000"/>
<polygon points="244,624 241.1,614.8 246.9,614.8" fill="#000"/>
<circle cx="235" cy="518.5" r="5.3" fill="none" stroke="#222" stroke-width="0.9"/>
<line x1="229.17" y1="513.84" x2="240.83" y2="523.16" stroke="#222" stroke-width="0.9"/>
<text font-size="17.5" textLength="22" lengthAdjust="spacingAndGlyphs" font-style="italic" transform="translate(240.5 511) rotate(-90)" fill="#111" stroke="#111" stroke-width="0.15">67</text>
<text font-size="10" textLength="18.5" lengthAdjust="spacingAndGlyphs" font-style="italic" transform="translate(230.5 489.5) rotate(-90)" fill="#111" stroke="#111" stroke-width="0">-0,1</text>
<text font-size="10" textLength="18.5" lengthAdjust="spacingAndGlyphs" font-style="italic" transform="translate(240.5 489.5) rotate(-90)" fill="#111" stroke="#111" stroke-width="0">-0,3</text>
<line x1="272" y1="447" x2="272" y2="612" stroke="#222" stroke-width="0.9"/>
<polygon points="272,447 269.1,456.2 274.9,456.2" fill="#000"/>
<polygon points="272,612 269.1,602.8 274.9,602.8" fill="#000"/>
<circle cx="262" cy="518.5" r="5.3" fill="none" stroke="#222" stroke-width="0.9"/>
<line x1="256.17" y1="513.84" x2="267.83" y2="523.16" stroke="#222" stroke-width="0.9"/>
<text font-size="17.5" textLength="22" lengthAdjust="spacingAndGlyphs" font-style="italic" transform="translate(267.5 511) rotate(-90)" fill="#111" stroke="#111" stroke-width="0.15">62</text>
<text font-size="10" textLength="22" lengthAdjust="spacingAndGlyphs" font-style="italic" transform="translate(257 490) rotate(-90)" fill="#111" stroke="#111" stroke-width="0">-0,04</text>
<text font-size="10" textLength="22" lengthAdjust="spacingAndGlyphs" font-style="italic" transform="translate(268.5 490) rotate(-90)" fill="#111" stroke="#111" stroke-width="0">-0,12</text>
<line x1="350" y1="442.5" x2="350" y2="465.6" stroke="#222" stroke-width="0.9"/>
<line x1="374.6" y1="442.5" x2="374.6" y2="697.5" stroke="#222" stroke-width="0.9"/>
<line x1="327" y1="445.5" x2="350" y2="445.5" stroke="#222" stroke-width="0.9"/>
<polygon points="350,445.5 340.8,442.6 340.8,448.4" fill="#000"/>
<line x1="374.6" y1="445.5" x2="417.5" y2="445.5" stroke="#222" stroke-width="0.9"/>
<polygon points="374.6,445.5 383.8,442.6 383.8,448.4" fill="#000"/>
<text font-size="17.5" textLength="28" lengthAdjust="spacingAndGlyphs" font-style="italic" x="385.5" y="439" fill="#111" stroke="#111" stroke-width="0.15">9,2</text>
<text font-size="10.5" textLength="29" lengthAdjust="spacingAndGlyphs" font-style="italic" x="417" y="430.5" fill="#111" stroke="#111" stroke-width="0">+1,16</text>
<text font-size="10.5" textLength="20" lengthAdjust="spacingAndGlyphs" font-style="italic" x="418.5" y="442" fill="#111" stroke="#111" stroke-width="0">-1,0</text>
<line x1="350" y1="465.6" x2="434" y2="465.6" stroke="#222" stroke-width="0.9"/>
<line x1="350" y1="593" x2="434" y2="593" stroke="#222" stroke-width="0.9"/>
<line x1="430" y1="465.6" x2="430" y2="593" stroke="#222" stroke-width="0.9"/>
<polygon points="430,465.6 427.1,474.8 432.9,474.8" fill="#000"/>
<polygon points="430,593 427.1,583.8 432.9,583.8" fill="#000"/>
<circle cx="420" cy="554" r="5.3" fill="none" stroke="#222" stroke-width="0.9"/>
<line x1="414.17" y1="549.34" x2="425.83" y2="558.66" stroke="#222" stroke-width="0.9"/>
<text font-size="17.5" textLength="47" lengthAdjust="spacingAndGlyphs" font-style="italic" transform="translate(425.5 546) rotate(-90)" fill="#111" stroke="#111" stroke-width="0.15">48C5</text>
<line x1="356" y1="513" x2="404" y2="513" stroke="#222" stroke-width="0.9"/>
<line x1="356" y1="546" x2="404" y2="546" stroke="#222" stroke-width="0.9"/>
<line x1="401" y1="492.5" x2="401" y2="513" stroke="#222" stroke-width="0.9"/>
<polygon points="401,513 398.1,503.8 403.9,503.8" fill="#000"/>
<line x1="401" y1="546" x2="401" y2="650" stroke="#222" stroke-width="0.9"/>
<polygon points="401,546 398.1,555.2 403.9,555.2" fill="#000"/>
<circle cx="394.5" cy="645" r="5.3" fill="none" stroke="#222" stroke-width="0.9"/>
<line x1="388.67" y1="640.34" x2="400.33" y2="649.66" stroke="#222" stroke-width="0.9"/>
<text font-size="16.5" textLength="40" lengthAdjust="spacingAndGlyphs" font-style="italic" transform="translate(400 637.5) rotate(-90)" fill="#111" stroke="#111" stroke-width="0.15">12C5</text>
<line x1="90" y1="572" x2="90" y2="651" stroke="#222" stroke-width="0.9"/>
<line x1="95.8" y1="576" x2="95.8" y2="674" stroke="#222" stroke-width="0.9"/>
<line x1="70" y1="649" x2="95.8" y2="649" stroke="#222" stroke-width="0.9"/>
<polygon points="90,649 80.8,646.1 80.8,651.9" fill="#000"/>
<line x1="95.8" y1="649" x2="127.5" y2="649" stroke="#222" stroke-width="0.9"/>
<polygon points="95.8,649 105,646.1 105,651.9" fill="#000"/>
<text font-size="17.5" textLength="26" lengthAdjust="spacingAndGlyphs" font-style="italic" x="102.5" y="644.5" fill="#111" stroke="#111" stroke-width="0.15">0,8</text>
<text font-size="9.5" textLength="19" lengthAdjust="spacingAndGlyphs" font-style="italic" x="130.5" y="637.5" fill="#111" stroke="#111" stroke-width="0">+0,1</text>
<line x1="207" y1="624" x2="207" y2="647.5" stroke="#222" stroke-width="0.9"/>
<line x1="222.5" y1="624" x2="222.5" y2="674" stroke="#222" stroke-width="0.9"/>
<line x1="162.5" y1="645" x2="222.5" y2="645" stroke="#222" stroke-width="0.9"/>
<polygon points="207,645 197.8,642.1 197.8,647.9" fill="#000"/>
<line x1="222.5" y1="645" x2="246" y2="645" stroke="#222" stroke-width="0.9"/>
<polygon points="222.5,645 231.7,642.1 231.7,647.9" fill="#000"/>
<text font-size="17.5" textLength="9" lengthAdjust="spacingAndGlyphs" font-style="italic" x="166" y="642" fill="#111" stroke="#111" stroke-width="0.15">5</text>
<text font-size="9.5" textLength="23" lengthAdjust="spacingAndGlyphs" font-style="italic" x="177.5" y="634.5" fill="#111" stroke="#111" stroke-width="0">+0,16</text>
<line x1="54.4" y1="537" x2="54.4" y2="697.5" stroke="#222" stroke-width="0.9"/>
<line x1="76.2" y1="537" x2="76.2" y2="665" stroke="#222" stroke-width="0.9"/>
<line x1="24" y1="663" x2="76.2" y2="663" stroke="#222" stroke-width="0.9"/>
<polygon points="54.4,663 63.6,660.1 63.6,665.9" fill="#000"/>
<polygon points="76.2,663 67,660.1 67,665.9" fill="#000"/>
<text font-size="17.5" textLength="9" lengthAdjust="spacingAndGlyphs" font-style="italic" x="24.5" y="660" fill="#111" stroke="#111" stroke-width="0.15">6</text>
<text font-size="9.5" textLength="9" lengthAdjust="spacingAndGlyphs" font-style="italic" x="37" y="653" fill="#111" stroke="#111" stroke-width="0">+1</text>
<line x1="95.8" y1="672" x2="222.5" y2="672" stroke="#222" stroke-width="0.9"/>
<polygon points="95.8,672 105,669.1 105,674.9" fill="#000"/>
<polygon points="222.5,672 213.3,669.1 213.3,674.9" fill="#000"/>
<text font-size="17.5" textLength="21" lengthAdjust="spacingAndGlyphs" font-style="italic" x="127.5" y="666" fill="#111" stroke="#111" stroke-width="0.15">44</text>
<text font-size="10.5" textLength="29" lengthAdjust="spacingAndGlyphs" font-style="italic" x="150.5" y="656" fill="#111" stroke="#111" stroke-width="0">+0,10</text>
<text font-size="10.5" textLength="25" lengthAdjust="spacingAndGlyphs" font-style="italic" x="152" y="668" fill="#111" stroke="#111" stroke-width="0">-0,47</text>
<line x1="222.5" y1="661" x2="374.6" y2="661" stroke="#222" stroke-width="0.9"/>
<polygon points="222.5,661 231.7,658.1 231.7,663.9" fill="#000"/>
<polygon points="374.6,661 365.4,658.1 365.4,663.9" fill="#000"/>
<text font-size="17.5" textLength="38" lengthAdjust="spacingAndGlyphs" font-style="italic" x="264" y="653" fill="#111" stroke="#111" stroke-width="0.15">65,6</text>
<text font-size="10.5" textLength="30" lengthAdjust="spacingAndGlyphs" font-style="italic" x="305.5" y="644.5" fill="#111" stroke="#111" stroke-width="0">+0,77</text>
<text font-size="10.5" textLength="26" lengthAdjust="spacingAndGlyphs" font-style="italic" x="307" y="657" fill="#111" stroke="#111" stroke-width="0">-1,17</text>
<line x1="54.4" y1="695.3" x2="374.6" y2="695.3" stroke="#222" stroke-width="0.9"/>
<polygon points="54.4,695.3 63.6,692.4 63.6,698.2" fill="#000"/>
<polygon points="374.6,695.3 365.4,692.4 365.4,698.2" fill="#000"/>
<text font-size="17.5" textLength="31" lengthAdjust="spacingAndGlyphs" font-style="italic" x="162.5" y="689" fill="#111" stroke="#111" stroke-width="0.15">119</text>
<text font-size="9.5" textLength="21.5" lengthAdjust="spacingAndGlyphs" font-style="italic" x="196" y="692" fill="#111" stroke="#111" stroke-width="0">-0,87</text>
<text font-size="17.5" textLength="336" lengthAdjust="spacingAndGlyphs" font-weight="bold" x="51" y="723" fill="#000" stroke="#000" stroke-width="0.6">БС-1404, БС-1404Б, БС-1404-О</text>
</g>
<g id="d4">
<line x1="543" y1="520.9" x2="954" y2="520.9" stroke="#222" stroke-width="0.9"/>
<path d="M577.2 511.2 L553.7 511.2 Q550.2 511.7 550.2 515 L550.2 526.3 Q550.2 529.3 553.7 529.8 L577.2 529.8" fill="none" stroke="#000" stroke-width="1.9" stroke-linejoin="miter" stroke-linecap="butt"/>
<path d="M553.9 511.2 L553.9 529.8" fill="none" stroke="#000" stroke-width="1.2" stroke-linejoin="miter" stroke-linecap="butt"/>
<line x1="551.5" y1="514.2" x2="577" y2="514.2" stroke="#000" stroke-width="1.3"/>
<line x1="551.5" y1="526.9" x2="577" y2="526.9" stroke="#000" stroke-width="1.3"/>
<path d="M595 508.1 L577.2 508.1 L577.2 533.1 L595 533.1" fill="none" stroke="#000" stroke-width="1.9" stroke-linejoin="miter" stroke-linecap="butt"/>
<path d="M602.7 468 L595 468 L595 574 L602.7 574" fill="none" stroke="#000" stroke-width="1.9" stroke-linejoin="miter" stroke-linecap="butt"/>
<path d="M614.8 463.3 L602.7 463.3 L602.7 578.3 L614.8 578.3" fill="none" stroke="#000" stroke-width="1.9" stroke-linejoin="miter" stroke-linecap="butt"/>
<path d="M614.8 578.3 L614.8 463.3 L623 429 Q627 410 641 410 L657.3 410" fill="none" stroke="#000" stroke-width="1.9" stroke-linejoin="miter" stroke-linecap="butt"/>
<path d="M614.8 578.3 L622.5 608 L636 608 L636 623 L642.5 623 L642.5 633.3" fill="none" stroke="#000" stroke-width="1.9" stroke-linejoin="miter" stroke-linecap="butt"/>
<path d="M618.3 594.5 Q617 601 619 609 L622.5 622 Q625.5 633.3 637 633.3 L657.3 633.3" fill="none" stroke="#000" stroke-width="1.9" stroke-linejoin="miter" stroke-linecap="butt"/>
<path d="M657.3 402.5 L674 402.5 L674 641.4 L657.3 641.4 Z" fill="none" stroke="#000" stroke-width="1.9" stroke-linejoin="miter" stroke-linecap="butt"/>
<path d="M674 417.5 L741.4 417.5" fill="none" stroke="#000" stroke-width="1.9" stroke-linejoin="miter" stroke-linecap="butt"/>
<path d="M674 626.4 L741.4 626.4" fill="none" stroke="#000" stroke-width="1.9" stroke-linejoin="miter" stroke-linecap="butt"/>
<path d="M741.4 402.5 L762.6 402.5 L762.6 641.4 L741.4 641.4 Z" fill="none" stroke="#000" stroke-width="1.9" stroke-linejoin="miter" stroke-linecap="butt"/>
<path d="M762.6 417.5 L846 417.5 Q855 417.5 857.5 428.5 L863.8 466 Q864.8 470.5 870 473.8 L880 473.8 L880 567 L870 567 Q864.8 570 863.8 575 L857.5 615 Q855 626.4 846 626.4 L762.6 626.4" fill="none" stroke="#000" stroke-width="1.9" stroke-linejoin="miter" stroke-linecap="butt"/>
<path d="M847 425 L847 617.5" fill="none" stroke="#000" stroke-width="1.9" stroke-linejoin="miter" stroke-linecap="butt"/>
<path d="M863.8 466 L863.8 575" fill="none" stroke="#000" stroke-width="1.9" stroke-linejoin="miter" stroke-linecap="butt"/>
<path d="M869.4 473.8 L869.4 567" fill="none" stroke="#000" stroke-width="1.9" stroke-linejoin="miter" stroke-linecap="butt"/>
<path d="M874.7 473.8 L874.7 567" fill="none" stroke="#000" stroke-width="1.9" stroke-linejoin="miter" stroke-linecap="butt"/>
<path d="M880 434.5 Q880 428.5 886 428.5 L893.4 428.5 Q899.4 428.5 899.4 434.5 L899.4 608 Q899.4 614 893.4 614 L886 614 Q880 614 880 608 Z" fill="none" stroke="#000" stroke-width="1.9" stroke-linejoin="miter" stroke-linecap="butt"/>
<path d="M899.4 452.5 L901 452.5 Q907 452.5 907 458.5 L907 583.5 Q907 589.5 901 589.5 L899.4 589.5" fill="none" stroke="#000" stroke-width="1.9" stroke-linejoin="miter" stroke-linecap="butt"/>
<path d="M906.8 504.7 L910.9 504.7 L910.9 509" fill="none" stroke="#000" stroke-width="1.9" stroke-linejoin="miter" stroke-linecap="butt"/>
<path d="M906.8 537.1 L910.9 537.1 L910.9 532.9" fill="none" stroke="#000" stroke-width="1.9" stroke-linejoin="miter" stroke-linecap="butt"/>
<path d="M910.9 509 L933 509 L933 532.9 L910.9 532.9" fill="none" stroke="#000" stroke-width="1.9" stroke-linejoin="miter" stroke-linecap="butt"/>
<path d="M910.9 509 L910.9 515.6 L917.3 521 L910.9 525.4 L910.9 532.9" fill="none" stroke="#000" stroke-width="1.7" stroke-linejoin="miter" stroke-linecap="butt"/>
<path d="M933 512.6 L939.7 512.6 L944 515.8 L944 525.3 L939.7 529 L933 529" fill="none" stroke="#000" stroke-width="1.7" stroke-linejoin="miter" stroke-linecap="butt"/>
<path d="M939.7 512.6 L938.2 517.6 L936.4 521 L938.2 524.4 L939.7 529 M938.2 517.6 L942 517.2 L944 515.8 M938.2 524.4 L942 524.8 L944 525.3" fill="none" stroke="#000" stroke-width="1.2" stroke-linejoin="miter" stroke-linecap="butt"/>
<line x1="534" y1="468" x2="595" y2="468" stroke="#222" stroke-width="0.9"/>
<line x1="534" y1="574" x2="595" y2="574" stroke="#222" stroke-width="0.9"/>
<line x1="537" y1="468" x2="537" y2="574" stroke="#222" stroke-width="0.9"/>
<polygon points="537,468 534.1,477.2 539.9,477.2" fill="#000"/>
<polygon points="537,574 534.1,564.8 539.9,564.8" fill="#000"/>
<circle cx="526.5" cy="541.5" r="5.3" fill="none" stroke="#222" stroke-width="0.9"/>
<line x1="520.67" y1="536.84" x2="532.33" y2="546.16" stroke="#222" stroke-width="0.9"/>
<text font-size="17" textLength="45" lengthAdjust="spacingAndGlyphs" font-style="italic" transform="translate(532 533.5) rotate(-90)" fill="#111" stroke="#111" stroke-width="0.15">36C3</text>
<line x1="560.7" y1="419" x2="560.7" y2="511.2" stroke="#222" stroke-width="0.9"/>
<polygon points="560.7,511.2 557.8,502 563.6,502" fill="#000"/>
<line x1="560.7" y1="529.8" x2="560.7" y2="559" stroke="#222" stroke-width="0.9"/>
<polygon points="560.7,529.8 557.8,539 563.6,539" fill="#000"/>
<text font-size="16.5" textLength="41.5" lengthAdjust="spacingAndGlyphs" font-style="italic" transform="translate(551.5 463) rotate(-90)" fill="#111" stroke="#111" stroke-width="0.15">M4-6</text>
<text font-size="11" textLength="6" lengthAdjust="spacingAndGlyphs" font-style="italic" transform="translate(554 420.5) rotate(-90)" fill="#111" stroke="#111" stroke-width="0">g</text>
<line x1="586.5" y1="432.5" x2="586.5" y2="508.1" stroke="#222" stroke-width="0.9"/>
<polygon points="586.5,508.1 583.6,498.9 589.4,498.9" fill="#000"/>
<line x1="586.5" y1="533.1" x2="586.5" y2="560" stroke="#222" stroke-width="0.9"/>
<polygon points="586.5,533.1 583.6,542.3 589.4,542.3" fill="#000"/>
<circle cx="575" cy="460" r="5.3" fill="none" stroke="#222" stroke-width="0.9"/>
<line x1="569.17" y1="455.34" x2="580.83" y2="464.66" stroke="#222" stroke-width="0.9"/>
<text font-size="17.5" textLength="23" lengthAdjust="spacingAndGlyphs" font-style="italic" transform="translate(580.5 452.5) rotate(-90)" fill="#111" stroke="#111" stroke-width="0.15">5C</text>
<line x1="674" y1="402.5" x2="701" y2="402.5" stroke="#222" stroke-width="0.9"/>
<line x1="674" y1="641.4" x2="701" y2="641.4" stroke="#222" stroke-width="0.9"/>
<line x1="698.6" y1="402.5" x2="698.6" y2="641.4" stroke="#222" stroke-width="0.9"/>
<polygon points="698.6,402.5 695.7,411.7 701.5,411.7" fill="#000"/>
<polygon points="698.6,641.4 695.7,632.2 701.5,632.2" fill="#000"/>
<circle cx="688" cy="505" r="5.3" fill="none" stroke="#222" stroke-width="0.9"/>
<line x1="682.17" y1="500.34" x2="693.83" y2="509.66" stroke="#222" stroke-width="0.9"/>
<text font-size="17" textLength="52" lengthAdjust="spacingAndGlyphs" font-style="italic" transform="translate(693.5 497) rotate(-90)" fill="#111" stroke="#111" stroke-width="0.15">105B7</text>
<line x1="719.6" y1="417.5" x2="719.6" y2="626.4" stroke="#222" stroke-width="0.9"/>
<polygon points="719.6,417.5 716.7,426.7 722.5,426.7" fill="#000"/>
<polygon points="719.6,626.4 716.7,617.2 722.5,617.2" fill="#000"/>
<circle cx="709" cy="509" r="5.3" fill="none" stroke="#222" stroke-width="0.9"/>
<line x1="703.17" y1="504.34" x2="714.83" y2="513.66" stroke="#222" stroke-width="0.9"/>
<text font-size="17" textLength="68" lengthAdjust="spacingAndGlyphs" font-style="italic" transform="translate(714.5 501.5) rotate(-90)" fill="#111" stroke="#111" stroke-width="0.15">100±0,2</text>
<line x1="762.6" y1="402.5" x2="795" y2="402.5" stroke="#222" stroke-width="0.9"/>
<line x1="762.6" y1="641.4" x2="794" y2="641.4" stroke="#222" stroke-width="0.9"/>
<line x1="790" y1="402.5" x2="790" y2="641.4" stroke="#222" stroke-width="0.9"/>
<polygon points="790,402.5 787.1,411.7 792.9,411.7" fill="#000"/>
<polygon points="790,641.4 787.1,632.2 792.9,632.2" fill="#000"/>
<circle cx="781" cy="499" r="5.3" fill="none" stroke="#222" stroke-width="0.9"/>
<line x1="775.17" y1="494.34" x2="786.83" y2="503.66" stroke="#222" stroke-width="0.9"/>
<text font-size="17" textLength="40" lengthAdjust="spacingAndGlyphs" font-style="italic" transform="translate(786.5 491.5) rotate(-90)" fill="#111" stroke="#111" stroke-width="0.15">110X</text>
<text font-size="8.5" textLength="5" lengthAdjust="spacingAndGlyphs" font-style="italic" transform="translate(786.5 451) rotate(-90)" fill="#000" stroke="#000" stroke-width="0">4</text>
<line x1="817" y1="417.5" x2="817" y2="626.4" stroke="#222" stroke-width="0.9"/>
<polygon points="817,417.5 814.1,426.7 819.9,426.7" fill="#000"/>
<polygon points="817,626.4 814.1,617.2 819.9,617.2" fill="#000"/>
<circle cx="808" cy="500.5" r="5.3" fill="none" stroke="#222" stroke-width="0.9"/>
<line x1="802.17" y1="495.84" x2="813.83" y2="505.16" stroke="#222" stroke-width="0.9"/>
<text font-size="17" textLength="40" lengthAdjust="spacingAndGlyphs" font-style="italic" transform="translate(813.5 493) rotate(-90)" fill="#111" stroke="#111" stroke-width="0.15">100X</text>
<text font-size="8.5" textLength="5" lengthAdjust="spacingAndGlyphs" font-style="italic" transform="translate(814 452.5) rotate(-90)" fill="#000" stroke="#000" stroke-width="0">3</text>
<line x1="595" y1="574" x2="595" y2="667" stroke="#222" stroke-width="0.9"/>
<line x1="602.5" y1="578.3" x2="602.5" y2="684.5" stroke="#222" stroke-width="0.9"/>
<line x1="574" y1="664.7" x2="645" y2="664.7" stroke="#222" stroke-width="0.9"/>
<polygon points="595,664.7 585.8,661.8 585.8,667.6" fill="#000"/>
<polygon points="602.5,664.7 611.7,661.8 611.7,667.6" fill="#000"/>
<text font-size="17.5" textLength="26" lengthAdjust="spacingAndGlyphs" font-style="italic" x="614" y="659.5" fill="#111" stroke="#111" stroke-width="0.15">0,7</text>
<text font-size="9.5" textLength="19" lengthAdjust="spacingAndGlyphs" font-style="italic" x="643" y="653" fill="#111" stroke="#111" stroke-width="0">+0,1</text>
<text font-size="17.5" textLength="38" lengthAdjust="spacingAndGlyphs" font-style="italic" x="650" y="674.5" fill="#111" stroke="#111" stroke-width="0.15">54,4</text>
<text font-size="10.5" textLength="24" lengthAdjust="spacingAndGlyphs" font-style="italic" x="690.5" y="664" fill="#111" stroke="#111" stroke-width="0">+0,2</text>
<text font-size="10.5" textLength="21" lengthAdjust="spacingAndGlyphs" font-style="italic" x="692" y="678" fill="#111" stroke="#111" stroke-width="0">-0,5</text>
<line x1="602.5" y1="682.2" x2="762.6" y2="682.2" stroke="#222" stroke-width="0.9"/>
<polygon points="602.5,682.2 611.7,679.3 611.7,685.1" fill="#000"/>
<polygon points="762.6,682.2 753.4,679.3 753.4,685.1" fill="#000"/>
<line x1="741.4" y1="641.4" x2="741.4" y2="667" stroke="#222" stroke-width="0.9"/>
<line x1="762.6" y1="641.4" x2="762.6" y2="684.5" stroke="#222" stroke-width="0.9"/>
<line x1="721" y1="664.7" x2="805" y2="664.7" stroke="#222" stroke-width="0.9"/>
<polygon points="741.4,664.7 732.2,661.8 732.2,667.6" fill="#000"/>
<polygon points="762.6,664.7 771.8,661.8 771.8,667.6" fill="#000"/>
<text font-size="17.5" textLength="10" lengthAdjust="spacingAndGlyphs" font-style="italic" x="780" y="662.2" fill="#111" stroke="#111" stroke-width="0.15">7</text>
<text font-size="9.5" textLength="20" lengthAdjust="spacingAndGlyphs" font-style="italic" x="791" y="655" fill="#111" stroke="#111" stroke-width="0">+0,2</text>
<line x1="762.6" y1="682.2" x2="943.5" y2="682.2" stroke="#222" stroke-width="0.9"/>
<polygon points="762.6,682.2 771.8,679.3 771.8,685.1" fill="#000"/>
<polygon points="943.5,682.2 934.3,679.3 934.3,685.1" fill="#000"/>
<text font-size="17.5" textLength="39" lengthAdjust="spacingAndGlyphs" font-style="italic" x="827.5" y="677.2" fill="#111" stroke="#111" stroke-width="0.15">85,3</text>
<text font-size="10.5" textLength="30" lengthAdjust="spacingAndGlyphs" font-style="italic" x="869" y="666.7" fill="#111" stroke="#111" stroke-width="0">+0,99</text>
<text font-size="10.5" textLength="27" lengthAdjust="spacingAndGlyphs" font-style="italic" x="870.5" y="680" fill="#111" stroke="#111" stroke-width="0">-1,40</text>
<line x1="550.2" y1="527" x2="550.2" y2="712" stroke="#222" stroke-width="0.9"/>
<line x1="943.5" y1="529" x2="943.5" y2="712" stroke="#222" stroke-width="0.9"/>
<line x1="550.2" y1="709.5" x2="943.5" y2="709.5" stroke="#222" stroke-width="0.9"/>
<polygon points="550.2,709.5 559.4,706.6 559.4,712.4" fill="#000"/>
<polygon points="943.5,709.5 934.3,706.6 934.3,712.4" fill="#000"/>
<text font-size="17.5" textLength="56" lengthAdjust="spacingAndGlyphs" font-style="italic" x="712.5" y="705" fill="#111" stroke="#111" stroke-width="0.15">150B7</text>
<text font-size="17.5" textLength="336" lengthAdjust="spacingAndGlyphs" font-weight="bold" x="575" y="739" fill="#000" stroke="#000" stroke-width="0.6">БС-1501, БС-1501Б, БС-1501-О</text>
</g>
</svg>
</body></html>
